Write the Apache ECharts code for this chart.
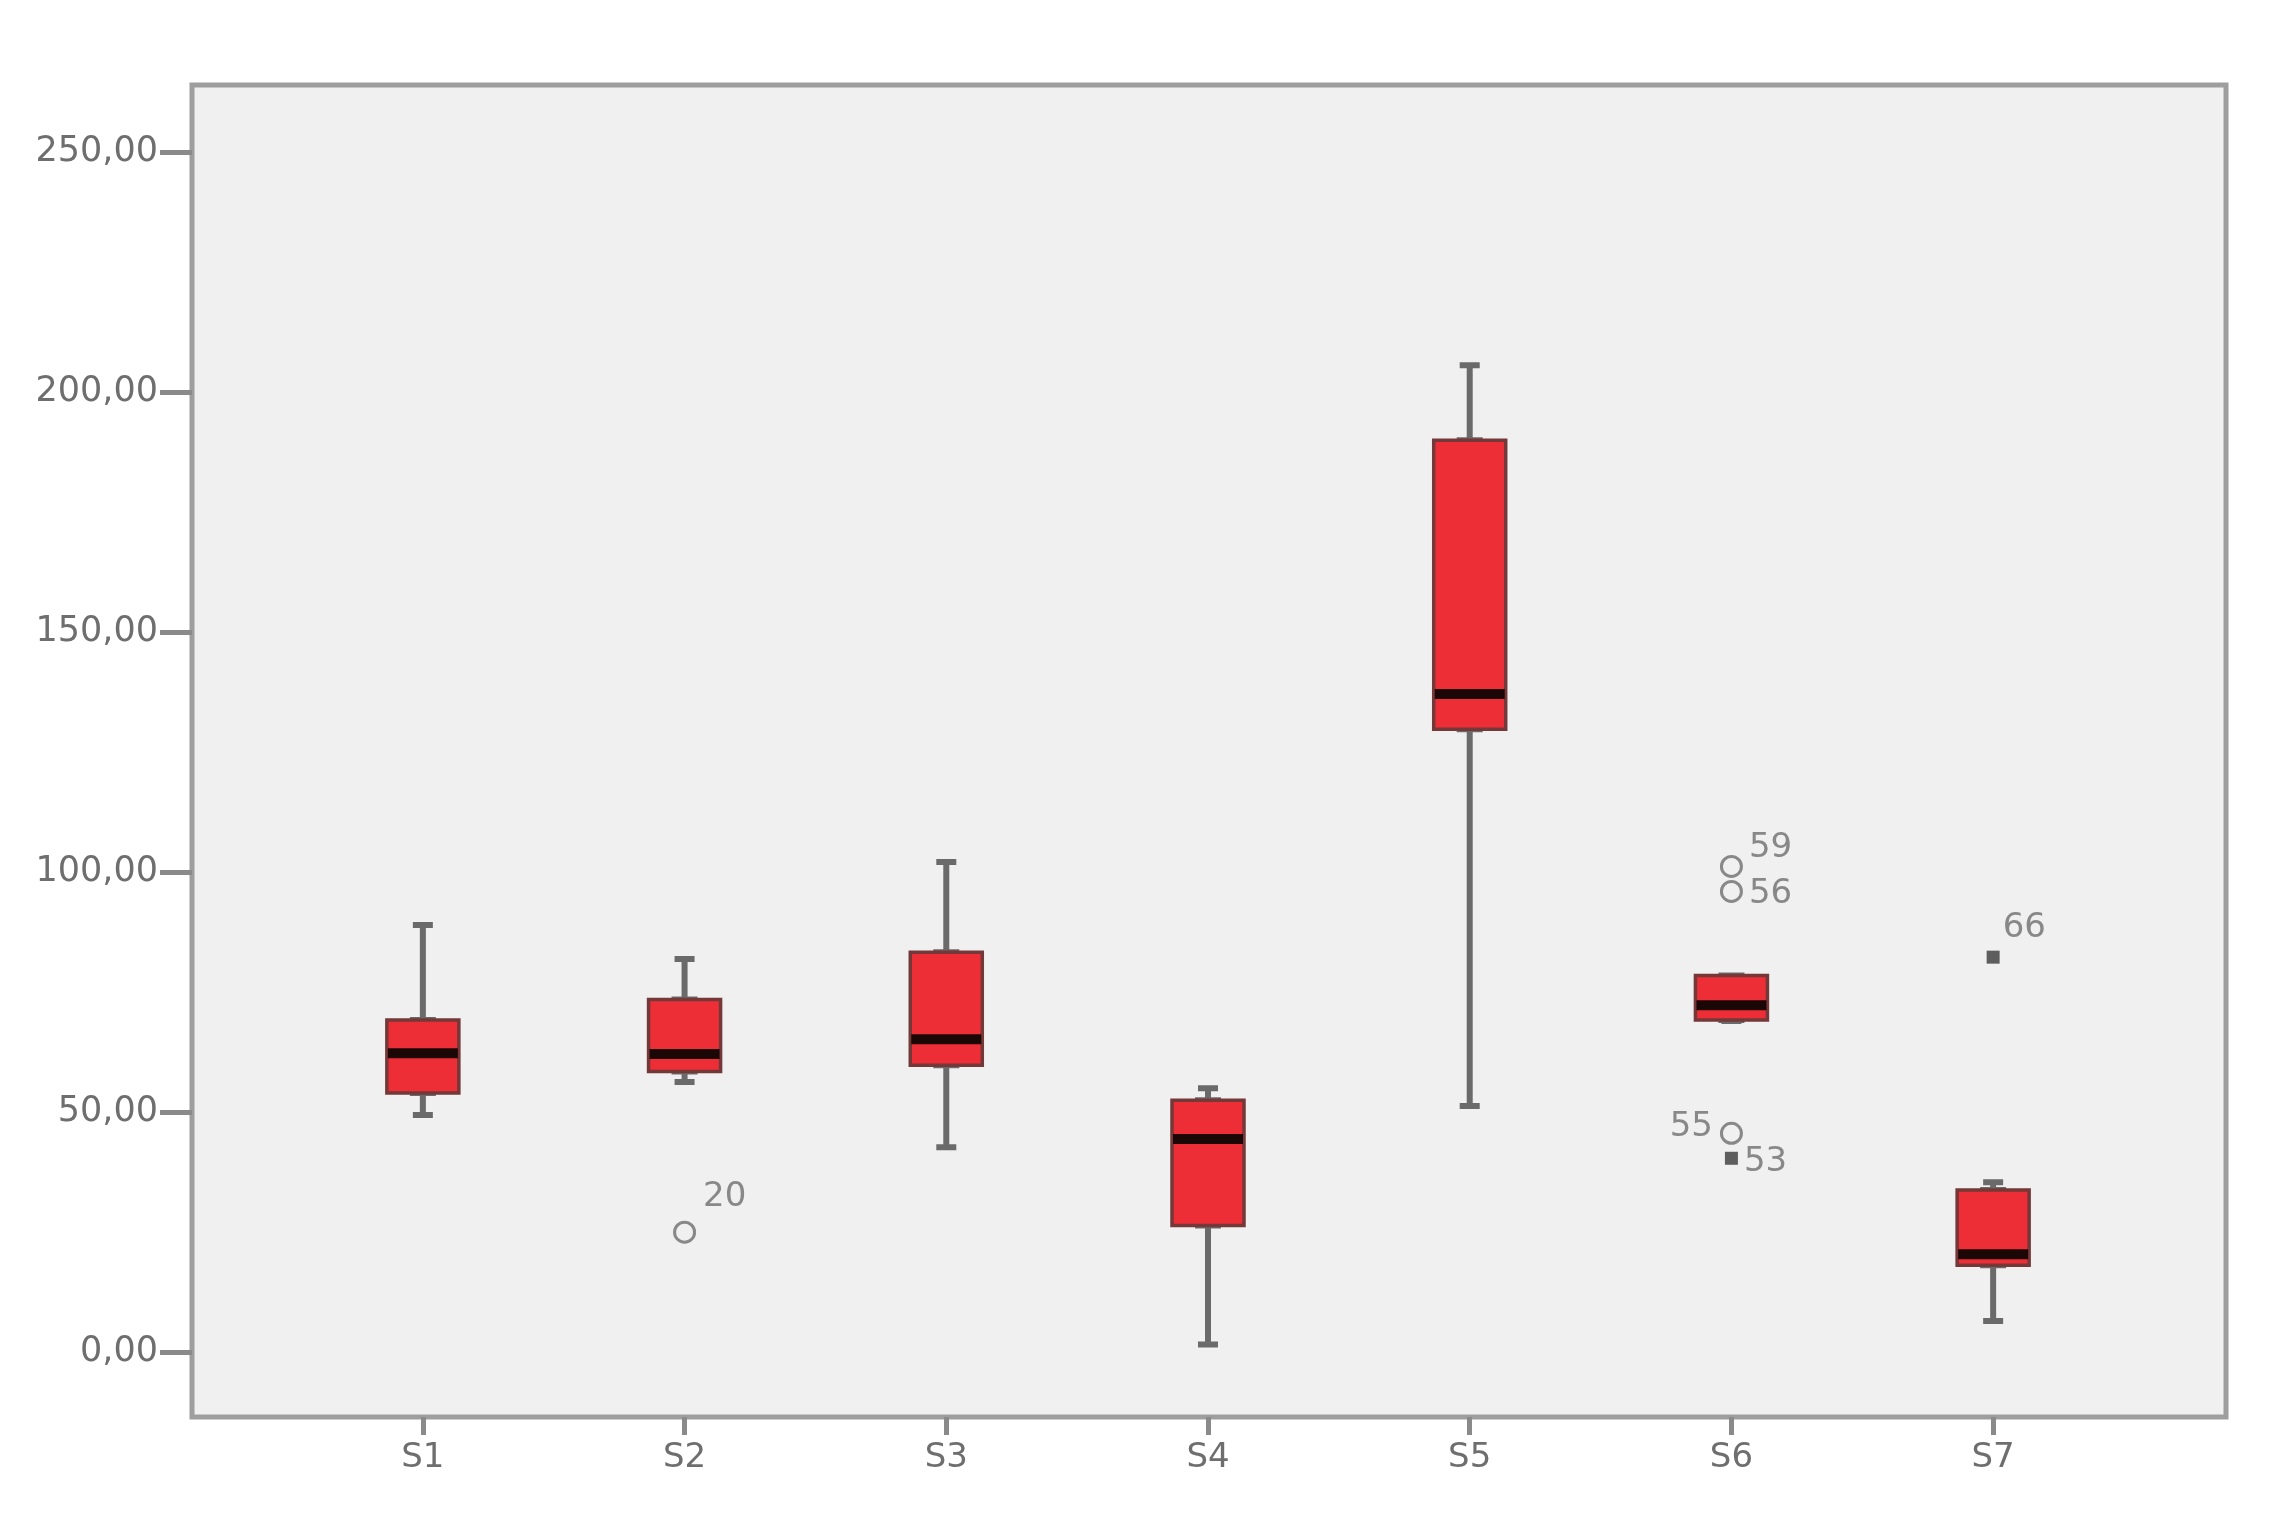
<!DOCTYPE html>
<html>
<head>
<meta charset="utf-8">
<script src="https://cdn.jsdelivr.net/npm/echarts@6/dist/echarts.min.js"></script>
<style>
html, body { margin: 0; padding: 0; background: #fff; }
#chart { width: 2288px; height: 1524px; }
</style>
</head>
<body>
<div id="chart"></div>
<script>
// values
const categories = ['S1', 'S2', 'S3', 'S4', 'S5', 'S6', 'S7'];
const whiskerLow = [49.4, 56.3, 42.7, 1.6, 51.3, 69.0, 6.5];
const q1 = [54.0, 58.5, 59.8, 26.4, 129.8, 69.2, 18.1];
const medians = [62.3, 62.1, 65.2, 44.4, 137.1, 72.3, 20.4];
const q3 = [69.2, 73.5, 83.3, 52.5, 190.0, 78.5, 33.8];
const whiskerHigh = [89.0, 81.9, 102.1, 55.0, 205.6, 78.5, 35.4];

const outlierCat = ['S2', 'S6', 'S6', 'S6', 'S6', 'S7'];
const outlierVal = [25.0, 101.2, 96.0, 45.6, 40.4, 82.3];
const outlierId = ['20', '59', '56', '55', '53', '66'];
const outlierKind = ['circle', 'circle', 'circle', 'circle', 'star', 'star'];

const yTicks = [0, 50, 100, 150, 200, 250];

const Y_MIN = -13.5, Y_MAX = 264;
const txt = '#6e6e6e';
const font = 'DejaVu Sans';

// where each case number sits next to its symbol
const labelPlace = {
  '20': { position: 'right', offset: [1, -35] },
  '59': { position: 'right', offset: [0, -18] },
  '56': { position: 'right', offset: [0, 3] },
  '55': { position: 'left', offset: [-1, -6] },
  '53': { position: 'right', offset: [0, 4] },
  '66': { position: 'right', offset: [-3, -29] }
};

const whiskerData = categories.map((c, i) => [whiskerLow[i], q1[i], medians[i], q3[i], whiskerHigh[i]]);
const boxData = categories.map((c, i) => [q1[i], q1[i], medians[i], q3[i], q3[i]]);
const medianData = categories.map((c, i) => [medians[i], medians[i], medians[i], medians[i], medians[i]]);

const outlierData = outlierVal.map((v, i) => {
  const star = outlierKind[i] === 'star';
  return {
    value: [outlierCat[i], v],
    symbol: star ? 'rect' : 'circle',
    symbolSize: star ? 13 : 20,
    itemStyle: star
      ? { color: '#3a3a3a', borderWidth: 0 }
      : { color: '#f0f0f0', borderColor: '#6e6e6e', borderWidth: 3 },
    label: Object.assign({ show: true, formatter: outlierId[i] }, labelPlace[outlierId[i]])
  };
});

const myChart = echarts.init(document.getElementById('chart'));

const catAxis = (show) => ({
  type: 'category',
  gridIndex: 1,
  data: categories,
  boundaryGap: true,
  show: show,
  axisLine: { show: false, onZero: false },
  axisTick: { show: true, alignWithLabel: true, length: 18, lineStyle: { color: '#8a8a8a', width: 5 } },
  axisLabel: { color: txt, fontSize: 34, fontFamily: font, margin: 24 },
  splitLine: { show: false }
});

myChart.setOption({
  animation: false,
  backgroundColor: '#ffffff',
  grid: [
    { left: 192, right: 62, top: 85, bottom: 107, show: true, backgroundColor: '#f0f0f0', borderColor: '#9e9e9e', borderWidth: 5 },
    { left: 292, right: 164, top: 85, bottom: 107 }
  ],
  xAxis: [
    { type: 'value', gridIndex: 0, show: false, min: 0, max: 1 },
    catAxis(true),
    catAxis(false),
    catAxis(false)
  ],
  yAxis: [
    {
      type: 'value', gridIndex: 0, min: Y_MIN, max: Y_MAX,
      axisLine: { show: false },
      splitLine: { show: false },
      axisTick: { show: true, length: 32, customValues: yTicks, lineStyle: { color: '#8a8a8a', width: 5 } },
      axisLabel: {
        customValues: yTicks, color: txt, fontSize: 35, fontFamily: font, margin: 34,
        formatter: (v) => v.toFixed(2).replace('.', ',')
      }
    },
    { type: 'value', gridIndex: 1, min: Y_MIN, max: Y_MAX, show: false }
  ],
  series: [
    {
      // whiskers with short caps
      type: 'boxplot', xAxisIndex: 1, yAxisIndex: 1, z: 2,
      boxWidth: [20, 20],
      data: whiskerData,
      itemStyle: { color: '#6a6a6a', borderColor: '#6a6a6a', borderWidth: 6 }
    },
    {
      // red boxes
      type: 'boxplot', xAxisIndex: 2, yAxisIndex: 1, z: 3,
      boxWidth: [72, 72],
      data: boxData,
      itemStyle: { color: '#ee2e37', borderColor: '#743838', borderWidth: 3.5 }
    },
    {
      // black median bars
      type: 'boxplot', xAxisIndex: 3, yAxisIndex: 1, z: 4,
      boxWidth: [70, 70],
      data: medianData,
      itemStyle: { color: '#1c0707', borderColor: '#1c0707', borderWidth: 10 }
    },
    {
      type: 'scatter', xAxisIndex: 1, yAxisIndex: 1, z: 5,
      data: outlierData,
      label: { color: txt, fontSize: 34, fontFamily: font, distance: 6 }
    }
  ]
});

window.addEventListener('resize', function () {
  myChart.resize();
});
</script>
</body>
</html>
